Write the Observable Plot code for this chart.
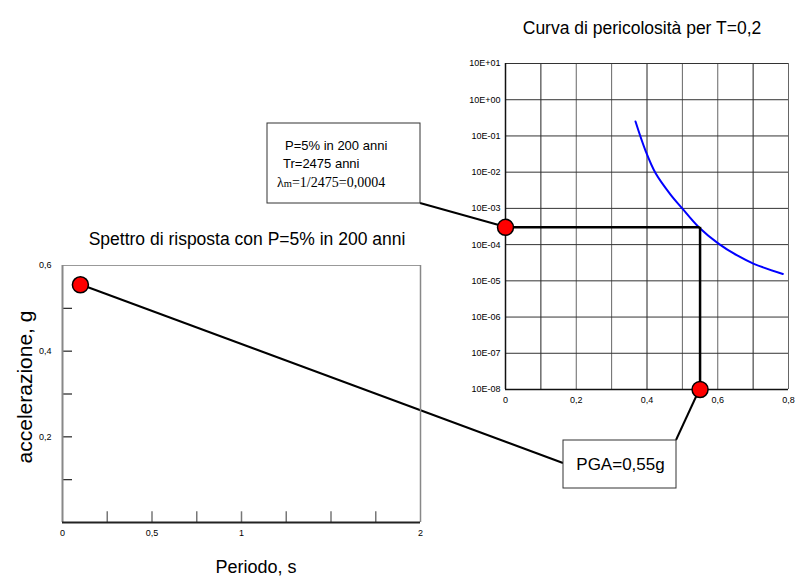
<!DOCTYPE html>
<html>
<head>
<meta charset="utf-8">
<script src="https://cdn.jsdelivr.net/npm/d3@7"></script>
<script src="https://cdn.jsdelivr.net/npm/@observablehq/plot@0.6"></script>
<style>
  body { margin: 0; background: white; }
  #wrap { position: relative; width: 795px; height: 577px; overflow: hidden; font-family: "Liberation Sans", Arial, sans-serif; }
  #wrap > * { position: absolute; }
</style>
</head>
<body>
<div id="wrap"></div>
<script>
// ---------- data ----------
const hazardTitle = "Curva di pericolosità per T=0,2";
const spectrumTitle = "Spettro di risposta con P=5% in 200 anni";
const spectrumYLabel = "accelerazione, g";
const spectrumXLabel = "Periodo, s";
const boxLines = ["P=5% in 200 anni", "Tr=2475 anni"];
const boxLambda = ["λ", "m", "=1/2475=0,0004"];
const pgaLabel = "PGA=0,55g";

// hazard curve (PGA [g] vs annual exceedance rate)
const hazardPGA  = [0.3675, 0.396, 0.424, 0.466, 0.4996, 0.5465, 0.603, 0.655, 0.702, 0.784];
const hazardRate = [0.251, 0.0389, 0.0095, 0.00245, 0.001, 0.000302, 0.000105, 0.0000501, 0.0000295, 0.0000155];
const hazardXTicks = [0, 0.2, 0.4, 0.6, 0.8];
const hazardXGrid = [0, 0.1, 0.2, 0.3, 0.4, 0.5, 0.6, 0.7, 0.8];
const hazardYTicks = [1e1, 1e0, 1e-1, 1e-2, 1e-3, 1e-4, 1e-5, 1e-6, 1e-7, 1e-8];
const lambdaM = [0.0003];
const pgaValue = [0.55];
const rateFloor = [1e-8];

// response spectrum
const spectrumPeriod = [0.1];
const spectrumAccel = [0.555];
const specXTicks = [0, 0.5, 1, 2];
const specXMinor = [0.25, 0.5, 0.75, 1, 1.25, 1.5, 1.75];
const specYTicks = [0.2, 0.4, 0.6];
const specYMinor = [0.1, 0.2, 0.3, 0.4, 0.5];

const comma = d => String(d).replace(".", ",");
const expFmt = d => { const e = Math.round(Math.log10(d)); return "10E" + (e >= 0 ? "+" : "-") + String(Math.abs(e)).padStart(2, "0"); };

const wrap = document.getElementById("wrap");
const baseStyle = { fontFamily: "Liberation Sans, Arial, sans-serif", fontSize: "9px", background: "transparent", overflow: "visible" };

// ---------- overlay (beneath the plots) ----------
const overlay = d3.select(wrap).append("svg")
  .attr("width", 795).attr("height", 577)
  .style("left", "0px").style("top", "0px").style("z-index", 0);

// ---------- hazard plot ----------
const HZ = { left: 455, top: 45 };
const hazard = Plot.plot({
  width: 340, height: 370,
  marginLeft: 50, marginRight: 7, marginTop: 18, marginBottom: 26,
  style: baseStyle,
  x: { domain: [0, 0.8], ticks: hazardXTicks, tickFormat: comma, tickSize: 0, tickPadding: 7, label: null },
  y: { type: "log", domain: [1e-8, 10], ticks: hazardYTicks, tickFormat: expFmt, tickSize: 0, tickPadding: 5, label: null },
  marks: [
    Plot.ruleX(hazardXGrid, { x: d => d, stroke: (d, i) => (i % 3 === 1 ? "#222" : "#666"), strokeWidth: 1 }),
    Plot.ruleY(hazardYTicks, { y: d => d, stroke: "#333", strokeWidth: 1 }),
    Plot.ruleX([0], { stroke: "#111", strokeWidth: 1.5 }),
    Plot.ruleY([1e-8], { stroke: "#111", strokeWidth: 1.5 }),
    Plot.line(hazardPGA.map((x, i) => ({ x, y: hazardRate[i] })), { x: "x", y: "y", stroke: "#0000ff", strokeWidth: 2, curve: "catmull-rom" }),
    Plot.ruleY(lambdaM, { y: d => d, x1: 0, x2: pgaValue[0], stroke: "#000", strokeWidth: 2.5 }),
    Plot.ruleX(pgaValue, { x: d => d, y1: lambdaM[0], y2: rateFloor[0], stroke: "#000", strokeWidth: 2.5 }),
    Plot.dot([{ x: 0, y: lambdaM[0] }, { x: pgaValue[0], y: rateFloor[0] }], { x: "x", y: "y", r: 8, fill: "#ff0000", stroke: "#000", strokeWidth: 1.5 })
  ]
});
hazard.style.left = HZ.left + "px"; hazard.style.top = HZ.top + "px"; hazard.style.zIndex = 1;
wrap.appendChild(hazard);

// ---------- spectrum plot ----------
const SP = { left: 20, top: 250 };
const spectrum = Plot.plot({
  width: 410, height: 302,
  marginLeft: 42, marginRight: 10, marginTop: 15, marginBottom: 30,
  style: baseStyle,
  x: { domain: [0, 2], ticks: specXTicks, tickFormat: comma, tickSize: 0, tickPadding: 7, label: null },
  y: { domain: [0, 0.6], ticks: specYTicks, tickFormat: comma, tickSize: 0, tickPadding: 11, label: null },
  marks: [
    Plot.ruleY(specYMinor, { y: d => d, x1: 0, x2: 0.056, stroke: "#222", strokeWidth: 1.2 }),
    Plot.ruleX(specXMinor, { x: d => d, y1: 0, y2: 0.025, stroke: "#777", strokeWidth: 1.5 }),
    Plot.ruleY([0.6], { stroke: "#999", strokeWidth: 1 }),
    Plot.ruleX([2], { stroke: "#888", strokeWidth: 1.5 }),
    Plot.ruleX([0], { stroke: "#888", strokeWidth: 2 }),
    Plot.ruleY([0], { stroke: "#222", strokeWidth: 2 }),
    Plot.dot(spectrumPeriod.map((x, i) => ({ x, y: spectrumAccel[i] })), { x: "x", y: "y", r: 8, fill: "#ff0000", stroke: "#000", strokeWidth: 1.5 })
  ]
});
spectrum.style.left = SP.left + "px"; spectrum.style.top = SP.top + "px"; spectrum.style.zIndex = 1;
wrap.appendChild(spectrum);

// ---------- overlay annotations from the plot scales ----------
const hx = hazard.scale("x"), hy = hazard.scale("y");
const sx = spectrum.scale("x"), sy = spectrum.scale("y");
const lamPt = [HZ.left + hx.apply(0), HZ.top + hy.apply(lambdaM[0])];
const pgaPt = [HZ.left + hx.apply(pgaValue[0]), HZ.top + hy.apply(rateFloor[0])];
const specPt = [SP.left + sx.apply(spectrumPeriod[0]), SP.top + sy.apply(spectrumAccel[0])];

// annotation boxes (layout)
const box1 = { x: 267, y: 123, w: 153, h: 80 };
const box2 = { x: 563, y: 440, w: 113, h: 48 };

overlay.append("line").attr("x1", box1.x + box1.w).attr("y1", box1.y + box1.h).attr("x2", lamPt[0]).attr("y2", lamPt[1]).attr("stroke", "#000").attr("stroke-width", 2);
overlay.append("line").attr("x1", specPt[0]).attr("y1", specPt[1]).attr("x2", box2.x).attr("y2", box2.y + 23).attr("stroke", "#000").attr("stroke-width", 2);
overlay.append("line").attr("x1", box2.x + box2.w).attr("y1", box2.y).attr("x2", pgaPt[0]).attr("y2", pgaPt[1]).attr("stroke", "#000").attr("stroke-width", 2);

overlay.append("rect").attr("x", box1.x).attr("y", box1.y).attr("width", box1.w).attr("height", box1.h).attr("fill", "white").attr("stroke", "#333").attr("stroke-width", 1);
overlay.append("rect").attr("x", box2.x).attr("y", box2.y).attr("width", box2.w).attr("height", box2.h).attr("fill", "white").attr("stroke", "#333").attr("stroke-width", 1);

const t = overlay.append("g").attr("font-family", "Liberation Sans, Arial, sans-serif").attr("fill", "#000");
t.append("text").attr("x", 285).attr("y", 149.5).attr("font-size", 13).text(boxLines[0]);
t.append("text").attr("x", 283).attr("y", 168).attr("font-size", 13).text(boxLines[1]);
const lam = t.append("text").attr("x", 277).attr("y", 187).attr("font-family", "Liberation Serif, DejaVu Serif, serif").attr("font-size", 14);
lam.append("tspan").text(boxLambda[0]);
lam.append("tspan").attr("font-size", 10.5).text(boxLambda[1]);
lam.append("tspan").text(boxLambda[2]);
t.append("text").attr("x", box2.x + box2.w / 2 + 1).attr("y", box2.y + 30).attr("text-anchor", "middle").attr("font-size", 17).text(pgaLabel);

t.append("text").attr("x", 642).attr("y", 34).attr("text-anchor", "middle").attr("font-size", 17.5).text(hazardTitle);
t.append("text").attr("x", 247).attr("y", 245).attr("text-anchor", "middle").attr("font-size", 17.5).text(spectrumTitle);
t.append("text").attr("transform", "translate(32,387) rotate(-90)").attr("text-anchor", "middle").attr("font-size", 21).text(spectrumYLabel);
t.append("text").attr("x", 256).attr("y", 573).attr("text-anchor", "middle").attr("font-size", 18).text(spectrumXLabel);
</script>
</body>
</html>
